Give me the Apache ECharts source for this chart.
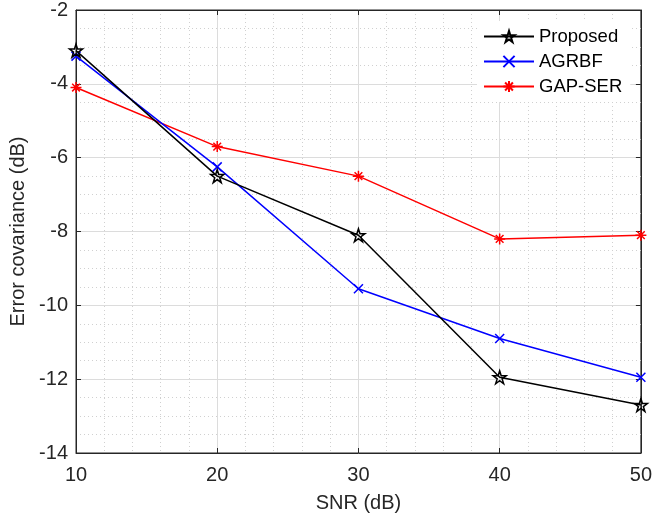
<!DOCTYPE html>
<html>
<head>
<meta charset="utf-8">
<script src="https://cdn.jsdelivr.net/npm/echarts@6/dist/echarts.min.js"></script>
<style>
  html, body { margin: 0; padding: 0; background: #fff; }
  #main { width: 655px; height: 519px; }
</style>
</head>
<body>
<div id="main"></div>
<script>
// values
var snr = [10, 20, 30, 40, 50];
var proposed = [-3.1, -6.5, -8.1, -11.95, -12.7];
var agrbf = [-3.25, -6.25, -9.55, -10.9, -11.95];
var gapSer = [-4.1, -5.7, -6.5, -8.2, -8.1];
var seriesNames = ["Proposed", "AGRBF", "GAP-SER"];

var starPath = "path://M0,-100L22.45,-30.9L95.1,-30.9L36.3,11.8L58.8,80.9L0,38.2L-58.8,80.9L-36.3,11.8L-95.1,-30.9L-22.45,-30.9Z";
var crossPath = "path://M0,0L10,10M10,0L0,10";
var asteriskPath = "path://M5,0L5,10M0,5L10,5M1.5,1.5L8.5,8.5M8.5,1.5L1.5,8.5";

function pairs(vals) {
  return snr.map(function (x, i) { return [x, vals[i]]; });
}

var txt = "#262626";
var font = "Arial, 'Liberation Sans', Helvetica, sans-serif";

var myChart = echarts.init(document.getElementById("main"));
var option = {
  animation: false,
  grid: {
    left: 76,
    right: 11,
    top: 8,
    bottom: 66,
    show: true,
    borderColor: txt,
    borderWidth: 1
  },
  legend: {
    left: 477,
    top: 21,
    orient: "vertical",
    itemWidth: 50,
    itemHeight: 14,
    itemGap: 6,
    backgroundColor: "#fff",
    padding: [6, 8, 6, 6],
    textStyle: { fontSize: 18.5, color: "#000", fontFamily: font },
    data: seriesNames
  },
  xAxis: [
    {
      type: "value",
      min: 10,
      max: 50,
      interval: 10,
      name: "SNR (dB)",
      nameLocation: "middle",
      nameGap: 40,
      nameTextStyle: { fontSize: 20, color: txt, fontFamily: font },
      axisLine: { lineStyle: { color: txt, width: 1 } },
      axisTick: { inside: true, length: 5, lineStyle: { color: txt } },
      axisLabel: { fontSize: 20, color: txt, fontFamily: font, margin: 12 },
      splitLine: { show: true, lineStyle: { color: "#dcdcdc", width: 1 } },
      minorTick: { show: true, splitNumber: 5, length: 0 },
      minorSplitLine: { show: true, lineStyle: { color: "#d0d0d0", type: [1, 3], width: 1 } }
    },
    {
      type: "value",
      position: "top",
      min: 10,
      max: 50,
      interval: 10,
      axisLine: { show: true, lineStyle: { color: txt } },
      axisTick: { show: true, inside: true, length: 5, lineStyle: { color: txt } },
      axisLabel: { show: false },
      splitLine: { show: false }
    }
  ],
  yAxis: [
    {
      type: "value",
      min: -14,
      max: -2,
      interval: 2,
      name: "Error covariance (dB)",
      nameLocation: "middle",
      nameGap: 38,
      nameTextStyle: { fontSize: 20, color: txt, fontFamily: font },
      axisLine: { show: true, lineStyle: { color: txt, width: 1 } },
      axisTick: { show: true, inside: true, length: 5, lineStyle: { color: txt } },
      axisLabel: { fontSize: 20, color: txt, fontFamily: font, margin: 8 },
      splitLine: { show: true, lineStyle: { color: "#dcdcdc", width: 1 } },
      minorTick: { show: true, splitNumber: 4, length: 0 },
      minorSplitLine: { show: true, lineStyle: { color: "#d0d0d0", type: [1, 3], width: 1 } }
    },
    {
      type: "value",
      position: "right",
      min: -14,
      max: -2,
      interval: 2,
      axisLine: { show: true, lineStyle: { color: txt } },
      axisTick: { show: true, inside: true, length: 5, lineStyle: { color: txt } },
      axisLabel: { show: false },
      splitLine: { show: false }
    }
  ],
  series: [
    {
      name: "Proposed",
      type: "line",
      data: pairs(proposed),
      symbol: starPath,
      symbolSize: 13,
      lineStyle: { color: "#000", width: 1.5 },
      itemStyle: { color: "rgba(0,0,0,0)", borderColor: "#000", borderWidth: 1.5 },
      z: 4
    },
    {
      name: "AGRBF",
      type: "line",
      data: pairs(agrbf),
      symbol: crossPath,
      symbolSize: 9,
      lineStyle: { color: "#0000ff", width: 1.5 },
      itemStyle: { color: "rgba(0,0,0,0)", borderColor: "#0000ff", borderWidth: 1.5 },
      z: 3
    },
    {
      name: "GAP-SER",
      type: "line",
      data: pairs(gapSer),
      symbol: asteriskPath,
      symbolSize: 11,
      lineStyle: { color: "#ff0000", width: 1.5 },
      itemStyle: { color: "rgba(0,0,0,0)", borderColor: "#ff0000", borderWidth: 1.5 },
      z: 2
    }
  ]
};
myChart.setOption(option);
</script>
</body>
</html>
